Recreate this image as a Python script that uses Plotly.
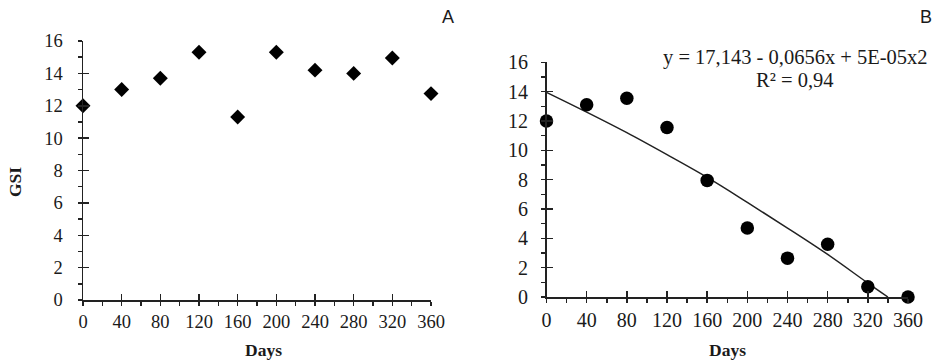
import plotly.graph_objects as go

# ---- data ----
days = [0, 40, 80, 120, 160, 200, 240, 280, 320, 360]
gsi_a = [12.0, 13.0, 13.7, 15.3, 11.3, 15.3, 14.2, 14.0, 14.95, 12.75]
gsi_b = [12.0, 13.1, 13.55, 11.55, 7.95, 4.7, 2.65, 3.6, 0.7, 0.0]
trend_x = [0, 40, 80, 120, 160, 200, 240, 280, 320, 340]
trend_y = [13.95, 12.6, 11.2, 9.7, 8.15, 6.45, 4.7, 2.9, 0.95, 0.0]
x_ticks = [0, 40, 80, 120, 160, 200, 240, 280, 320, 360]
y_ticks = [0, 2, 4, 6, 8, 10, 12, 14, 16]
equation = "y = 17,143 - 0,0656x + 5E-05x2"
r2_text = "R² = 0,94"

W, H = 950, 363
INK = "#1a1a1a"
SERIF = "Liberation Serif"

def px(x):
    return x / W

def py(y):
    return 1 - y / H

fig = go.Figure()

fig.add_trace(go.Scatter(x=days, y=gsi_a, mode="markers", xaxis="x", yaxis="y",
                         marker=dict(symbol="diamond", size=11.5, color="black"),
                         cliponaxis=False, showlegend=False))
fig.add_trace(go.Scatter(x=trend_x, y=trend_y, mode="lines", xaxis="x2", yaxis="y2",
                         line=dict(color="#222", width=1.5, shape="spline"),
                         showlegend=False))
fig.add_trace(go.Scatter(x=days, y=gsi_b, mode="markers", xaxis="x2", yaxis="y2",
                         marker=dict(symbol="circle", size=13.5, color="black"),
                         cliponaxis=False, showlegend=False))
# dummy traces for inner tick overlays
fig.add_trace(go.Scatter(x=[None], y=[None], xaxis="x3", yaxis="y3", showlegend=False, hoverinfo="skip"))
fig.add_trace(go.Scatter(x=[None], y=[None], xaxis="x4", yaxis="y4", showlegend=False, hoverinfo="skip"))

def xax(domain, anchor, fs, standoff):
    return dict(domain=domain, anchor=anchor, range=[0, 360], tickvals=x_ticks,
                ticktext=[str(v) for v in x_ticks], automargin=False,
                showline=True, linecolor="#222", linewidth=1.5, showgrid=False, zeroline=False,
                ticks="outside", ticklen=4, tickwidth=1.5, tickcolor="#222",
                minor=dict(ticks="outside", ticklen=4, tickwidth=1.5, tickcolor="#222", dtick=20, tick0=0, showgrid=False),
                tickfont=dict(family=SERIF, size=fs, color=INK), ticklabelstandoff=standoff)

def yax(domain, anchor, fs, standoff):
    return dict(domain=domain, anchor=anchor, range=[0, 16], tickvals=y_ticks, automargin=False,
                showline=True, linecolor="#222", linewidth=1.5, showgrid=False, zeroline=False,
                ticks="outside", ticklen=4, tickwidth=1.5, tickcolor="#222",
                minor=dict(ticks="outside", ticklen=4, tickwidth=1.5, tickcolor="#222", dtick=1, tick0=0, showgrid=False),
                tickfont=dict(family=SERIF, size=fs, color=INK), ticklabelstandoff=standoff)

def xin(over, anchor):
    return dict(overlaying=over, anchor=anchor, range=[0, 360], tickvals=x_ticks, side="bottom",
                showline=False, showgrid=False, zeroline=False, showticklabels=False, automargin=False,
                ticks="inside", ticklen=6, tickwidth=1.5, tickcolor="#222")

def yin(over, anchor):
    return dict(overlaying=over, anchor=anchor, range=[0, 16], tickvals=y_ticks, side="left",
                showline=False, showgrid=False, zeroline=False, showticklabels=False, automargin=False,
                ticks="inside", ticklen=6, tickwidth=1.5, tickcolor="#222")

left_x = [px(83), px(431)]
left_y = [py(300), py(41)]
right_x = [px(546.5), px(908)]
right_y = [py(297), py(62.3)]

fig.update_layout(
    width=W, height=H,
    margin=dict(l=0, r=0, t=0, b=0, autoexpand=False),
    paper_bgcolor="white", plot_bgcolor="white",
    xaxis=xax(left_x, "y", 18.5, 0),
    yaxis=yax(left_y, "x", 18.5, 11),
    xaxis2=xax(right_x, "y2", 20, 0),
    yaxis2=yax(right_y, "x2", 20, 9),
    xaxis3=xin("x", "y"),
    yaxis3=yin("y", "x"),
    xaxis4=xin("x2", "y2"),
    yaxis4=yin("y2", "x2"),
)

ann = [
    dict(text="<b>GSI</b>", x=px(15), y=py(182), textangle=-90, font=dict(family=SERIF, size=17.5, color=INK)),
    dict(text="<b>Days</b>", x=px(263), y=py(350), font=dict(family=SERIF, size=17.5, color=INK)),
    dict(text="<b>Days</b>", x=px(727), y=py(350), font=dict(family=SERIF, size=17.5, color=INK)),
    dict(text="A", x=px(448), y=py(17), font=dict(family="Liberation Sans", size=18, color=INK)),
    dict(text="B", x=px(926), y=py(17), font=dict(family="Liberation Sans", size=18, color=INK)),
    dict(text=equation, x=px(795.5), y=py(57), font=dict(family=SERIF, size=20.5, color=INK)),
    dict(text=r2_text, x=px(795), y=py(80), font=dict(family=SERIF, size=20.5, color=INK)),
]
for a in ann:
    a.update(xref="paper", yref="paper", showarrow=False, xanchor="center", yanchor="middle")
fig.update_layout(annotations=ann)

fig.write_html("out.html",
               config={"displayModeBar": False, "staticPlot": True},
               post_script="document.body.style.margin='0';document.body.style.padding='0';")
